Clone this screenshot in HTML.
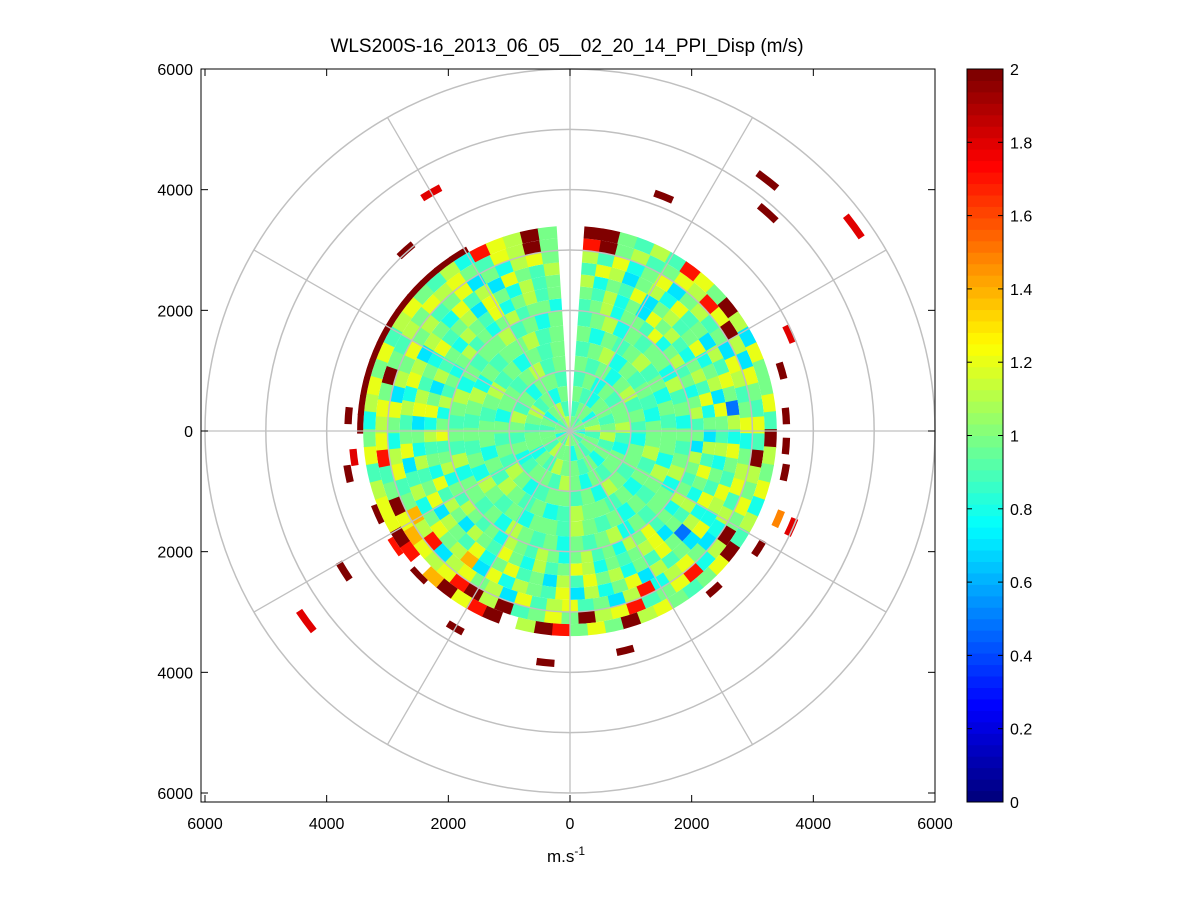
<!DOCTYPE html>
<html><head><meta charset="utf-8">
<style>
body{margin:0;background:#fff;}
svg{display:block;font-family:"Liberation Sans",Arial,sans-serif;}
</style></head>
<body>
<svg id="chart" width="1201" height="901" viewBox="0 0 1201 901" xmlns="http://www.w3.org/2000/svg">
<rect width="1201" height="901" fill="#fff"/>
<text x="567" y="52" font-size="19" text-anchor="middle">WLS200S-16_2013_06_05__02_20_14_PPI_Disp (m/s)</text>
<g id="data"></g>
<g id="dashes"></g>
<g id="grid"></g>
<rect x="201" y="69" width="734" height="733" fill="none" stroke="#000" stroke-width="1"/>
<g id="axes"></g>
<text x="566" y="862" font-size="17" text-anchor="middle">m.s<tspan font-size="12" dy="-7">-1</tspan></text>
<g id="cbar"></g>
</svg>
<script>
// ---- data ----
const rangeEdges = [0,250,500,750,1000,1250,1500,1750,2000,2200,2400,2600,2800,3000,3200,3400,3500,3590];
const rings = [
"a9aa8a9aab9a8aa9ab",
"9aa8ab9aa9a8aab9aa9a8ab9",
"a98aa9ab9a8a9aab9a8aa9ab9a8a",
"9a8a9aab98aa9a8ab9aa98a9ab9a8aa9",
"a9a8ab9a98aa9ab8a9aa98ab9a9a8aa9ab9a",
"9ab8a9a98aab9a8a9aab98a9ab9a8aa9ab9a8a9a",
"a8a9ab9a8a9aa8ba9a8a9ab9aa8a9ab8a9a9ab8a9aab9a",
"9ab8a9aa8b9a8a9ab8aa9a8ba9a8a9ab8a9aa8b9a9ab8a9aab9a8a",
"9ab8aa9c8ab9a8ab9a7ba9ab8a9cab8a9ba8ab9ab8a9ab9a8ba9ca8b9a8ab9a8ab9aa8",
"a9b8a7cab98ab9c8a7b9ca8b9a7cba9a8bca9b8ac9ab7ab9c8a9b8ca7b9a8ba9c8ab9a",
"b8a9c7ab9ac8ab7ca9b8a9c8b5ac9a8bac9b7a9ca8c9ab7ca9b8a7cb9a8c9ab7ca8b9a",
"9cb7ab8c9a7b9ca5b8ca9cb8c7a9b7ca8b7c9ab8c7ebaca8b97ca9b8cb7ba8c9b7ca9b",
"b9c8ac7ab9a7cb9ac8abc9b87acb8hb7a9cb9c7bacb7hbea9cb8ac7bacab9ac7a8bca",
"hkab9acbhckb7ca9c9kbacakb8hca9hcbkaca9kbkhcbcecka9hcbcaka9bacbca9cbka",
"kka9b9hcakb7caac9kbac8b9kca9acbkacahkb-khcke-hkccb9ca8bcac9bca9b8hcbka",
"-------------------------------------------k-h-k----kkkkkkkkkkkk-----"
];
const outAz  = [330,318,21.6,38,42,54,66,74,86,94,101,113.6,113,122,138,166,186,210,234,238,259,274,263];
const outRng = [4560,4030,4180,5270,4860,5770,3950,3620,3560,3560,3600,3970,3720,3660,3540,3750,3860,3770,5360,4380,3710,3650,3580];
const outVal = [1.8,2,2,2,2,1.8,1.8,2,2,2,2,1.8,1.5,2,2,2,2,2,1.8,2,2,2,1.8];
const axisTicks = [-6000,-4000,-2000,0,2000,4000,6000];
const cbarTicks = [0,0.2,0.4,0.6,0.8,1,1.2,1.4,1.6,1.8,2];
const codes = "0123456789abcdefghijk";
// ---- scales ----
const CX=570, CY=431, K=365/6000;
const sx = v => CX + v*K;
const sy = v => CY - v*K*(362/365);
function jet(v){
  let t=Math.max(0,Math.min(1,v/2)); t=Math.floor(t*63.999)/63;
  const f=x=>Math.max(0,Math.min(1,x));
  const r=f(1.5-Math.abs(4*t-3)), g=f(1.5-Math.abs(4*t-2)), b=f(1.5-Math.abs(4*t-1));
  return `rgb(${Math.round(r*255)},${Math.round(g*255)},${Math.round(b*255)})`;
}
function pt(az,r){const a=az*Math.PI/180;return [sx(r*Math.sin(a)), sy(r*Math.cos(a))];}
function sector(a0,a1,r0,r1){
  const p1=pt(a0,r0),p2=pt(a0,r1),p3=pt(a1,r1),p4=pt(a1,r0);
  const rx1=r1*K, rx0=r0*K;
  return `M${p1[0]},${p1[1]}L${p2[0]},${p2[1]}A${rx1},${rx1} 0 0 1 ${p3[0]},${p3[1]}L${p4[0]},${p4[1]}A${rx0},${rx0} 0 0 0 ${p1[0]},${p1[1]}Z`;
}
const NS="http://www.w3.org/2000/svg";
function mk(tag,attrs,parent){const e=document.createElementNS(NS,tag);for(const k in attrs)e.setAttribute(k,attrs[k]);parent.appendChild(e);return e;}
const dataG=document.getElementById('data');
rings.forEach((s,ri)=>{
  const n=s.length, a0=4, span=352;
  for(let i=0;i<n;i++){
    const c=codes.indexOf(s[i]); if(c<0) continue;
    const v=c*0.1;
    const p=mk('path',{d:sector(a0+span*i/n,a0+span*(i+1)/n+0.3,rangeEdges[ri],rangeEdges[ri+1]),fill:jet(v)},dataG);
    
    
  }
});
const dG=document.getElementById('dashes');
outAz.forEach((az,i)=>{
  const p=mk('path',{d:sector(az-2.2,az+2.2,outRng[i]-60,outRng[i]+60),fill:jet(outVal[i])},dG);
  
  
});
// grid
const gG=document.getElementById('grid');
for(let r=1000;r<=6000;r+=1000){
  const c=mk('ellipse',{cx:CX,cy:CY,rx:r*K,ry:r*K*(362/365),fill:'none',stroke:'#c0c0c0','stroke-width':1.5},gG);
  
  
}
for(let a=0;a<360;a+=30){
  const p=pt(a,6000);
  const l=mk('line',{x1:CX,y1:CY,x2:p[0],y2:p[1],stroke:'#c0c0c0','stroke-width':1.3},gG);
  
  
}
// axes
const aG=document.getElementById('axes');
axisTicks.forEach(v=>{
  const x=Math.min(Math.max(sx(v),201),935), y=Math.min(Math.max(sy(v),69),802);
  mk('line',{x1:x,y1:802,x2:x,y2:795,stroke:'#000'},aG);
  mk('line',{x1:x,y1:69,x2:x,y2:76,stroke:'#000'},aG);
  mk('line',{x1:201,y1:y,x2:208,y2:y,stroke:'#000'},aG);
  mk('line',{x1:935,y1:y,x2:928,y2:y,stroke:'#000'},aG);
  const tx=mk('text',{x:x,y:829,'font-size':16,'text-anchor':'middle'},aG);
  tx.textContent=Math.abs(v);
  
  
  const ty=mk('text',{x:193,y:y+6,'font-size':16,'text-anchor':'end'},aG);
  ty.textContent=Math.abs(v);
  
  
});
// colorbar
const cG=document.getElementById('cbar');
const CB={x:967,y:69,w:36,h:733};
for(let i=0;i<64;i++){
  const h=CB.h/64;
  const r=mk('rect',{x:CB.x,y:CB.y+CB.h-(i+1)*h,width:CB.w,height:h+0.5,fill:jet((i+0.5)/64*2)},cG);
  
  
}
mk('rect',{x:CB.x,y:CB.y,width:CB.w,height:CB.h,fill:'none',stroke:'#000'},cG);
cbarTicks.forEach(v=>{
  const y=CB.y+CB.h-v/2*CB.h;
  mk('line',{x1:CB.x,y1:y,x2:CB.x+5,y2:y,stroke:'#000'},cG);
  mk('line',{x1:CB.x+CB.w,y1:y,x2:CB.x+CB.w-5,y2:y,stroke:'#000'},cG);
  const t=mk('text',{x:1010,y:y+6,'font-size':16},cG);
  t.textContent=(v===0||v===1||v===2)?String(v):v.toFixed(1);
  
  
});
</script>
</body></html>
